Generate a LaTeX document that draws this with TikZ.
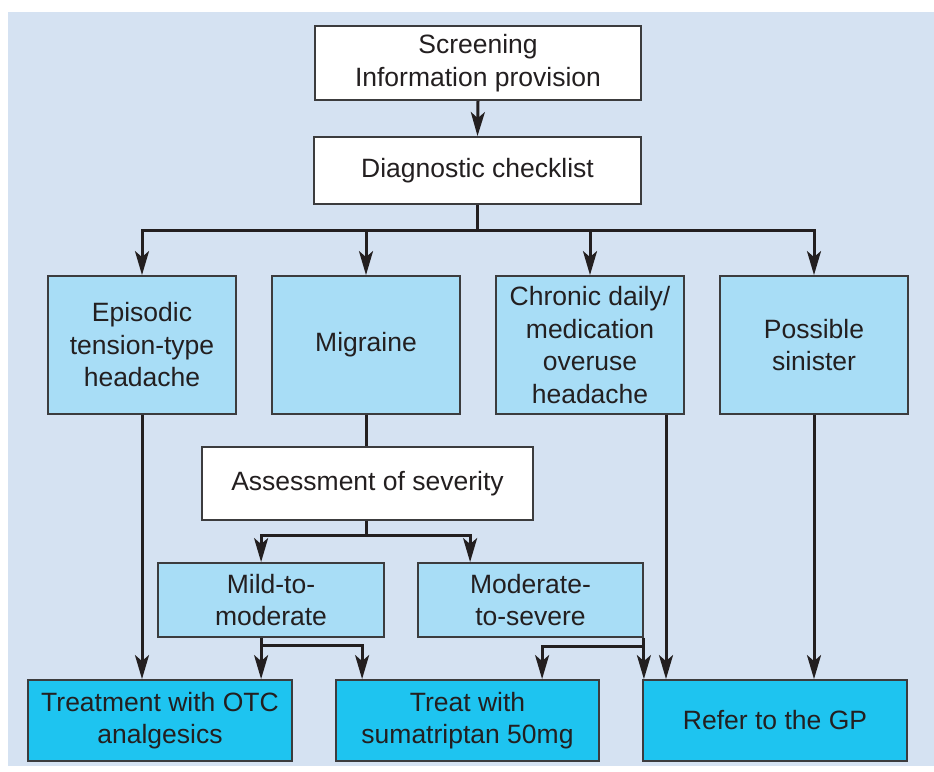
\documentclass[tikz,border=0pt]{standalone}
\usepackage{fontspec}
\setmainfont{Liberation Sans}
\usetikzlibrary{arrows.meta,calc}
\definecolor{bgblue}{RGB}{213,226,242}
\definecolor{lightbox}{RGB}{168,221,246}
\definecolor{cyanbox}{RGB}{30,196,240}
\definecolor{edge}{RGB}{60,60,62}
\definecolor{ink}{RGB}{35,31,32}
\tikzset{
  box/.style={draw=edge, line width=1.8pt, inner sep=0pt, align=center, text=ink,
    font=\fontsize{26.5}{32.5}\selectfont},
  whitebox/.style={box, fill=white},
  lbox/.style={box, fill=lightbox},
  cbox/.style={box, fill=cyanbox},
  conn/.style={draw=ink, line width=3pt},
  arr/.style={conn, -{Stealth[length=24pt,width=14pt,inset=6pt]}},
}
\begin{document}
\begin{tikzpicture}[x=1pt,y=-1pt]
\useasboundingbox (0,0) rectangle (934,771);
\fill[bgblue] (8,12) rectangle (934,766);

\node[whitebox, minimum width=326pt, minimum height=74pt] (scr) at (478,63) {Screening\\Information provision};
\node[whitebox, minimum width=327pt, minimum height=67pt] (diag) at (477.5,170.5) {Diagnostic checklist};

\node[lbox, minimum width=188pt, minimum height=138pt] (ep) at (142,345) {Episodic\\tension-type\\headache};
\node[lbox, minimum width=188pt, minimum height=138pt] (mig) at (366,345) {Migraine};
\node[lbox, minimum width=188pt, minimum height=138pt] (chr) at (590,345) {Chronic daily/\\medication\\overuse\\headache};
\node[lbox, minimum width=188pt, minimum height=138pt] (pos) at (814,345) {Possible\\sinister};

\node[whitebox, minimum width=331pt, minimum height=73pt] (ass) at (367.5,483.5) {Assessment of severity};

\node[lbox, minimum width=226pt, minimum height=74pt] (mild) at (271,600) {Mild-to-\\moderate};
\node[lbox, minimum width=225pt, minimum height=74pt] (mod) at (530.5,600) {Moderate-\\to-severe};

\node[cbox, minimum width=264pt, minimum height=81pt] (trt) at (160,720.5) {Treatment with OTC\\analgesics};
\node[cbox, minimum width=263pt, minimum height=81pt] (sum) at (467.5,720.5) {Treat with\\sumatriptan 50mg};
\node[cbox, minimum width=264pt, minimum height=81pt] (ref) at (775,720.5) {Refer to the GP};

% top
\draw[arr] (scr.south) -- (diag.north);
\coordinate (bus) at ($(diag.south)+(0,26)$);
\draw[conn] (diag.south) -- (bus);
\draw[arr] (bus) -| (ep.north);
\draw[arr] (bus) -| (mig.north);
\draw[arr] (bus) -| (chr.north);
\draw[arr] (bus) -| (pos.north);

% episodic
\draw[arr] (ep.south) -- (ep.south |- trt.north);

% migraine
\draw[conn] (mig.south) -- (mig.south |- ass.north);
\coordinate (abus) at ($(ass.south)+(-1.5,15)$);
\coordinate (mildin) at ($(mild.north west)+(104,0)$);
\coordinate (modin) at ($(mod.north west)+(53,0)$);
\draw[conn] (abus |- ass.south) -- (abus);
\draw[arr] (abus) -| (mildin);
\draw[arr] (abus) -| (modin);

% mild
\coordinate (mildout) at ($(mild.south west)+(104,0)$);
\coordinate (mbus) at ($(mildout)+(0,8)$);
\draw[arr] (mildout) -- (mildout |- trt.north);
\draw[arr] (mbus) -| ($(sum.north west)+(27,0)$);

% moderate
\coordinate (modout) at (mod.south east);
\coordinate (dbus) at ($(modout)+(0,9)$);
\draw[arr] (modout) -- (modout |- ref.north);
\draw[arr] (dbus) -| ($(sum.north west)+(207,0)$);

% chronic
\coordinate (chrout) at ($(chr.south)+(76,0)$);
\draw[arr] (chrout) -- (chrout |- ref.north);

% possible sinister
\draw[arr] (pos.south) -- (pos.south |- ref.north);
\end{tikzpicture}
\end{document}
